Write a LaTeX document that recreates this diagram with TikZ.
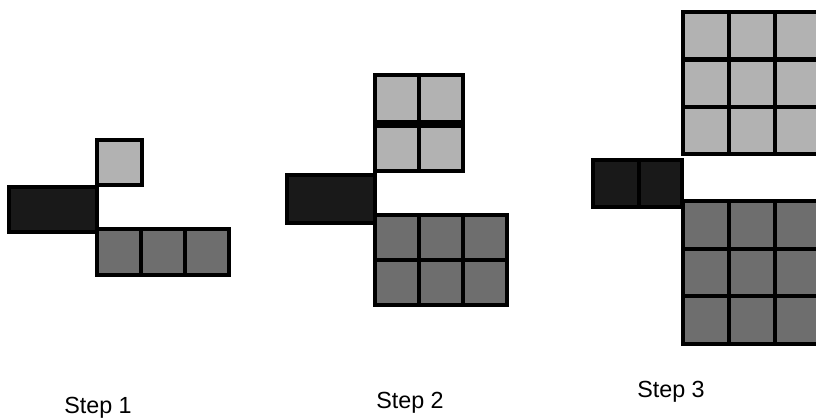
\documentclass[tikz,border=0pt]{standalone}
\usepackage{fontspec}
\setmainfont{Liberation Sans}
\usepackage{tikz}

\tikzset{
  lightcell/.style={fill=black!30,draw=black,line width=2.5pt},
  darkcell/.style={fill=black!57,draw=black,line width=2.5pt},
  blackcell/.style={fill=black!90,draw=black,line width=2.5pt},
  steplabel/.style={font=\fontsize{17.5}{20}\selectfont,inner sep=0pt}
}

\begin{document}
\begin{tikzpicture}[x=0.75pt,y=-0.75pt]
\useasboundingbox (0,0) rectangle (816,420);
\clip (0,0) rectangle (816,420);

% step 1
\draw[blackcell] (9,187) rectangle (97,232);
\draw[lightcell] (97,140) rectangle (142,185);
\foreach \x in {97,141,185}
  \draw[darkcell] (\x,229) rectangle ++(44,46);
\node[steplabel] (lbl1) at (98,408) {Step 1};

% step 2
\draw[blackcell] (287,175) rectangle (375,223);
\foreach \x in {375,419}{
  \draw[lightcell] (\x,75) rectangle ++(44,47);
  \draw[lightcell] (\x,126) rectangle ++(44,45);
}
\foreach \x in {375,419,463}
  \foreach \y in {215,260}
    \draw[darkcell] (\x,\y) rectangle ++(44,45);
\node[steplabel] (lbl2) at (410,403) {Step 2};

% step 3
\draw[blackcell] (593,160) rectangle (639,207);
\draw[blackcell] (639,160) rectangle (682,207);
\foreach \x in {683,729,775}
  \foreach \y in {12,60,107}{
    \draw[lightcell] (\x,\y) rectangle ++(46,47);
    \draw[darkcell] (\x,\y+189) rectangle ++(46,48);
  }
\node[steplabel] (lbl3) at (671,392) {Step 3};
\end{tikzpicture}
\end{document}
